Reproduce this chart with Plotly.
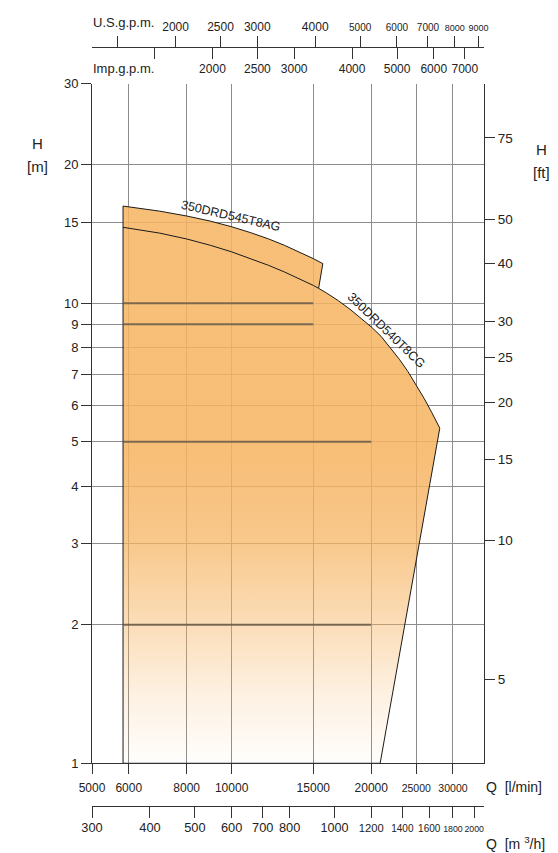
import math
import plotly.graph_objects as go

# ---------------- data ----------------
# pump curve 350DRD545T8AG : Q [l/min], H [m]
q_545 = [5833, 7000, 8000, 9000, 10000, 11000, 12000, 13000, 14000, 15000, 15725]
h_545 = [16.26, 15.85, 15.47, 15.08, 14.66, 14.23, 13.80, 13.36, 12.93, 12.50, 12.19]

# pump curve 350DRD540T8CG : Q [l/min], H [m]
q_540 = [5833, 7000, 8000, 9000, 10000, 11000, 12000, 13000, 14000, 15000, 15400,
         16000, 17000, 18000, 19000, 20000, 21000, 22000, 23000, 24000, 25000,
         26000, 27000, 28100]
h_540 = [14.62, 14.20, 13.79, 13.36, 12.93, 12.50, 12.09, 11.69, 11.31, 10.93, 10.77,
         10.53, 10.12, 9.70, 9.29, 8.88, 8.47, 8.01, 7.55, 7.10, 6.65,
         6.21, 5.79, 5.35]

q_junction = 15400          # where the 545 end line meets the 540 curve
q_left = 5833               # left limit of the operating field
q_right_bottom = 20900      # lower right corner of the field (H = 1 m)
h_floor = 1

# darker reference lines inside the field
ref_h = [10, 9, 5, 2]
ref_q_end = [15000, 15000, 20000, 20000]

# axis ticks
lpm_ticks = [5000, 6000, 8000, 10000, 15000, 20000, 25000, 30000]
m3h_ticks = [300, 400, 500, 600, 700, 800, 1000, 1200, 1400, 1600, 1800, 2000]
usgpm_ticks = [2000, 2500, 3000, 4000, 5000, 6000, 7000, 8000, 9000]
impgpm_ticks = [2000, 2500, 3000, 4000, 5000, 6000, 7000]
gpm_unlabelled = [1500]
hm_ticks = [1, 2, 3, 4, 5, 6, 7, 8, 9, 10, 15, 20, 30]
hft_ticks = [5, 10, 15, 20, 25, 30, 40, 50, 75]

q_range = [5000, 35000]     # l/min
h_range = [1, 30]           # m

LPM_PER_M3H = 1000 / 60
LPM_PER_USGAL = 3.785411784
LPM_PER_IMPGAL = 4.54609
M_PER_FT = 0.3048

# ---------------- styling ----------------
FONT = "Liberation Sans, Arial, sans-serif"
AX = "#333333"
GRID = "#8c8c8c"
ORANGE = "246,180,98"
TXT = "#222222"

OFF = 8                      # page body margin of the html page
W, H = 558 - OFF, 853 - OFF
ML, MR, MT, MB = 92 - OFF, 74, 30 - OFF, 47
PW = W - ML - MR
PH = H - MT - MB


def xpos(px):                # page pixel -> paper x
    return (px - OFF - ML) / PW


def ypos(py):                # page pixel -> paper y
    return (OFF + MT + PH - py) / PH


y_dom = [ypos(763), ypos(79)]
top_pos = ypos(42)

L = math.log10


def sz(txt, size):
    return f"<span style='font-size:{size}px'>{txt}</span>"


fig = go.Figure()

# operating field (envelope)
env_q = [q_left] + q_545 + [q for q in q_540 if q >= q_junction] + [q_right_bottom, q_left]
env_h = [h_floor] + h_545 + [h for q, h in zip(q_540, h_540) if q >= q_junction] + [h_floor, h_floor]
fig.add_trace(go.Scatter(
    x=env_q, y=env_h, mode="lines", fill="toself",
    fillgradient=dict(type="vertical", colorscale=[
        [0.0, f"rgba({ORANGE},0.02)"],
        [0.12, f"rgba({ORANGE},0.18)"],
        [0.25, f"rgba({ORANGE},0.45)"],
        [0.40, f"rgba({ORANGE},0.74)"],
        [0.55, f"rgba({ORANGE},0.86)"],
        [1.0, f"rgba({ORANGE},0.86)"],
    ]),
    line=dict(color="#1a1a1a", width=1), hoverinfo="skip"))

# 540 curve inside the field
q_in = [q for q in q_540 if q <= q_junction]
h_in = h_540[:len(q_in)]
fig.add_trace(go.Scatter(x=q_in, y=h_in, mode="lines",
                         line=dict(color="#1a1a1a", width=1), hoverinfo="skip"))

# reference lines
for h, qe in zip(ref_h, ref_q_end):
    fig.add_trace(go.Scatter(x=[q_left, qe], y=[h, h], mode="lines",
                             line=dict(color="rgba(105,90,75,0.85)", width=2), hoverinfo="skip"))

# dummy traces to register the secondary axes
for xa, ya in [("x2", "y"), ("x3", "y"), ("x4", "y"), ("x", "y2"), ("x", "y3")]:
    fig.add_trace(go.Scatter(x=[], y=[], xaxis=xa, yaxis=ya, hoverinfo="skip"))

common = dict(type="log", showline=True, linecolor=AX, linewidth=1, ticks="outside",
              tickcolor=AX, tickwidth=1, zeroline=False, tickangle=0,
              tickfont=dict(family=FONT, size=12, color=TXT))

lpm_text = [str(v) if v < 25000 else sz(v, 10.5) for v in lpm_ticks]
m3h_sizes = {1000: 12.6, 1200: 11.2, 1400: 10, 1600: 10, 1800: 8.8, 2000: 8.8}
m3h_text = [sz(v, m3h_sizes.get(v, 12.8)) for v in m3h_ticks]
us_text = [str(v) if v < 5000 else sz(v, 10 if v < 8000 else 9) for v in usgpm_ticks]
imp_text = [str(v) for v in impgpm_ticks]

gpm_minor = lambda conv: dict(tickvals=[v * 1 for v in gpm_unlabelled], ticks="outside",
                              ticklen=11, tickcolor=AX, tickwidth=1, showgrid=False)

fig.update_layout(
    width=W, height=H, margin=dict(l=ML, r=MR, t=MT, b=MB),
    plot_bgcolor="white", paper_bgcolor="white", showlegend=False,
    font=dict(family=FONT, size=12, color=TXT),
    xaxis=dict(common, range=[L(q_range[0]), L(q_range[1])], domain=[0, 1], anchor="y",
               tickvals=lpm_ticks, ticktext=lpm_text, ticklen=10, ticklabelstandoff=3,
               showgrid=True, gridcolor=GRID, gridwidth=1),
    xaxis2=dict(common, overlaying="x", anchor="free", position=0, side="bottom",
                range=[L(q_range[0] / LPM_PER_M3H), L(q_range[1] / LPM_PER_M3H)],
                tickvals=m3h_ticks, ticktext=m3h_text, ticklen=11, showgrid=False),
    xaxis3=dict(common, overlaying="x", anchor="free", position=top_pos, side="top",
                range=[L(q_range[0] / LPM_PER_USGAL), L(q_range[1] / LPM_PER_USGAL)],
                tickvals=usgpm_ticks, ticktext=us_text, ticklen=11, showgrid=False,
                minor=gpm_minor(LPM_PER_USGAL)),
    xaxis4=dict(common, overlaying="x", anchor="free", position=top_pos, side="bottom",
                range=[L(q_range[0] / LPM_PER_IMPGAL), L(q_range[1] / LPM_PER_IMPGAL)],
                tickvals=impgpm_ticks, ticktext=imp_text, ticklen=11, showgrid=False,
                minor=gpm_minor(LPM_PER_IMPGAL)),
    yaxis=dict(common, range=[L(h_range[0]), L(h_range[1])], domain=y_dom, anchor="x",
               tickvals=hm_ticks, ticktext=[str(v) for v in hm_ticks], ticklen=10,
               showgrid=False, tickfont=dict(family=FONT, size=13, color=TXT)),
    yaxis2=dict(common, overlaying="y", anchor="x", side="right",
                range=[L(h_range[0] / M_PER_FT), L(h_range[1] / M_PER_FT)],
                tickvals=hft_ticks, ticktext=[str(v) for v in hft_ticks], ticklen=10,
                showgrid=False, tickfont=dict(family=FONT, size=13.5, color=TXT)),
    yaxis3=dict(type="log", overlaying="y", anchor="x", side="left",
                range=[L(h_range[0]), L(h_range[1])],
                tickvals=hm_ticks[1:-1], showticklabels=False, ticks="", showline=False,
                showgrid=True, gridcolor=GRID, gridwidth=1, zeroline=False),
)

annots = [
    ("H", 37, 139, "center", 15), ("[m]", 37, 162, "center", 15),
    ("H", 541, 145, "center", 15), ("[ft]", 541, 168, "center", 15),
    ("U.S.g.p.m.", 91, 17, "left", 13), ("Imp.g.p.m.", 91, 64, "left", 13),
    ("Q  [l/min]", 484, 787, "left", 14), ("Q  [m <sup>3</sup>/h]", 484, 843, "left", 14),
]
for txt, px, py, xa, fs in annots:
    fig.add_annotation(text=txt, xref="paper", yref="paper", showarrow=False,
                       x=xpos(px), y=ypos(py), xanchor=xa, yanchor="middle",
                       font=dict(family=FONT, size=fs, color=TXT))

curve_font = dict(family=FONT, size=12.5, color=TXT)
fig.add_annotation(text="350DRD545T8AG", x=L(9966), y=L(15.46), xref="x", yref="y",
                   textangle=13, xanchor="center", yanchor="middle", showarrow=False,
                   font=curve_font)
fig.add_annotation(text="350DRD540T8CG", x=L(21490), y=L(8.73), xref="x", yref="y",
                   textangle=44, xanchor="center", yanchor="middle", showarrow=False,
                   font=curve_font)

fig.write_html("out.html")
